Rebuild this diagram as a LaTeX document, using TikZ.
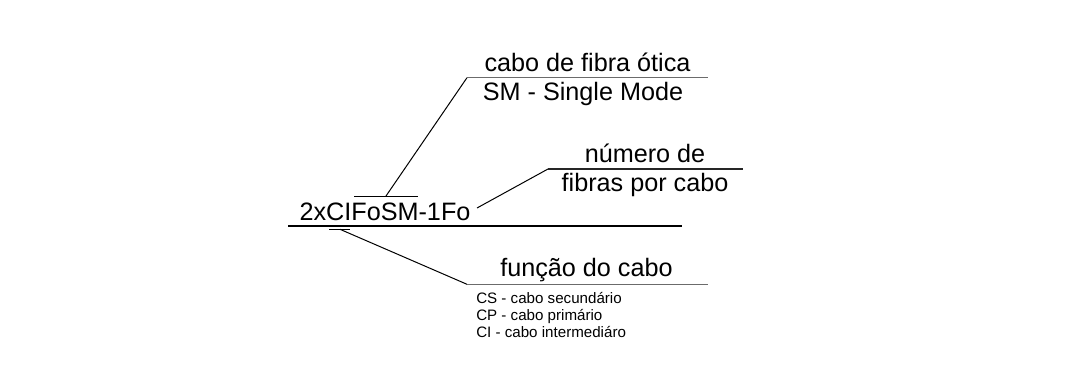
\documentclass[tikz,border=0pt]{standalone}
\usepackage{fontspec}
\setmainfont{Liberation Sans}
\begin{document}
\begin{tikzpicture}[x=0.75pt,y=-0.75pt,
  big/.style={inner sep=0pt,anchor=base,font=\fontsize{18.9pt}{22pt}\selectfont},
  small/.style={inner sep=0pt,anchor=base west,font=\fontsize{11.35pt}{13pt}\selectfont},
  leader/.style={draw=black,line width=0.75pt},
  shelf/.style={draw=black!58,line width=1.1pt},
  baseline rule/.style={draw=black,line width=1.5pt}]
\useasboundingbox (0,0) rectangle (1079,382);

% main designation
\node[big] (code) at (385,220) {2xCIFoSM-1Fo};
\coordinate (obarL) at (354,196);
\coordinate (obarR) at (417.5,196);
\coordinate (obarM) at (386,196);
\coordinate (ruleL) at (288,226);
\coordinate (ruleR) at (682,226);
\coordinate (tickL) at (329,229.3);
\coordinate (tickR) at (350,229.3);
\coordinate (tickM) at (340,229.3);
\coordinate (codeEnd) at (477,208);

\draw[leader] (obarL) -- (obarR);
\draw[baseline rule] (ruleL) -- (ruleR);
\draw[leader,line width=1.1pt] (tickL) -- (tickR);

% cable type
\coordinate (shelf1L) at (467,77.7);
\coordinate (shelf1R) at (708,77.7);
\node[big] (type1) at (587.5,71) {cabo de fibra ótica};
\node[big] (type2) at (583,100) {SM - Single Mode};
\draw[shelf] (shelf1L) -- (shelf1R);
\draw[leader] (obarM) -- (shelf1L);

% number of fibres
\coordinate (shelf2L) at (548,169);
\coordinate (shelf2R) at (743,169);
\node[big] (num1) at (645,162) {número de};
\node[big] (num2) at (645,191) {fibras por cabo};
\draw[shelf,draw=black!85] (shelf2L) -- (shelf2R);
\draw[leader] (codeEnd) -- (shelf2L);

% cable function
\coordinate (shelf3L) at (467,284.3);
\coordinate (shelf3R) at (708,284.3);
\node[big] (func) at (586.5,276) {função do cabo};
\draw[shelf] (shelf3L) -- (shelf3R);
\draw[leader] (tickM) -- (shelf3L);
\node[small] (cs) at (476,303.3) {CS - cabo secundário};
\node[small] (cp) at (476,320.7) {CP - cabo primário};
\node[small] (ci) at (476,337.3) {CI - cabo intermediáro};
\end{tikzpicture}
\end{document}
